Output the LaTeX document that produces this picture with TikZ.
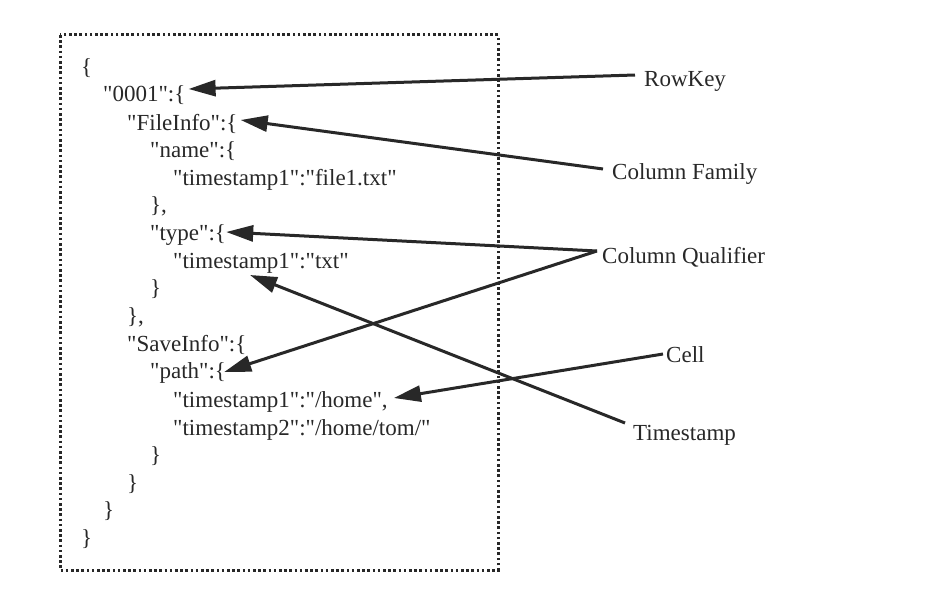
\documentclass[tikz,border=0pt]{standalone}
\usepackage{fontspec}
\setmainfont{Liberation Serif}[Ligatures=TeXOff]
\usetikzlibrary{arrows.meta}
\definecolor{ink}{RGB}{40,40,40}
\begin{document}
\begin{tikzpicture}[x=1pt,y=-1pt,
  code/.style={anchor=base west,inner sep=0pt,text=ink,font=\fontsize{23}{27}\selectfont},
  lab/.style={anchor=base west,inner sep=0pt,text=ink,font=\fontsize{23}{27}\selectfont},
  conn/.style={draw=ink,line width=3pt,-{Triangle[length=27pt,width=16pt]}},
  frame/.style={draw=ink,line width=3pt,dash pattern=on 2.6pt off 2.6pt}]
\useasboundingbox (0,0) rectangle (932,610);
\fill[white] (0,0) rectangle (932,610);
\draw[frame] (60,35) rectangle (498,570);
% code lines
\node[code] (c0)  at (81,74.5)  {\{};
\node[code] (c1)  at (103,102)  {"0001":\{};
\node[code] (c2)  at (127,130)  {"FileInfo":\{};
\node[code] (c3)  at (150,157)  {"name":\{};
\node[code] (c4)  at (173,185)  {"timestamp1":"file1.txt"};
\node[code] (c5)  at (150,212)  {\},};
\node[code] (c6)  at (150,240)  {"type":\{};
\node[code] (c7)  at (173,268)  {"timestamp1":"txt"};
\node[code] (c8)  at (150,295)  {\}};
\node[code] (c9)  at (127,323)  {\},};
\node[code] (c10) at (127,351)  {"SaveInfo":\{};
\node[code] (c11) at (150,378)  {"path":\{};
\node[code] (c12) at (173,407)  {"timestamp1":"/home",};
\node[code] (c13) at (173,435)  {"timestamp2":"/home/tom/"};
\node[code] (c14) at (150,462)  {\}};
\node[code] (c15) at (127,490)  {\}};
\node[code] (c16) at (103,517)  {\}};
\node[code] (c17) at (81,545)   {\}};
% labels
\node[lab] (rk) at (644,86)  {RowKey};
\node[lab] (cf) at (612,179) {Column Family};
\node[lab] (cq) at (602,263) {Column Qualifier};
\node[lab] (ce) at (666,362) {Cell};
\node[lab] (ts) at (633,440) {Timestamp};
% connectors
\draw[conn] ([xshift=-9pt,yshift=11pt]rk.base west) -- ([xshift=3pt,yshift=13pt]c1.base east);
\draw[conn] ([xshift=-9pt,yshift=10pt]cf.base west) -- ([xshift=3pt,yshift=10pt]c2.base east);
\draw[conn] ([xshift=-5pt,yshift=12pt]cq.base west) -- ([xshift=0pt,yshift=8pt]c6.base east);
\draw[conn] ([xshift=-5pt,yshift=12pt]cq.base west) -- ([xshift=-2pt,yshift=6pt]c11.base east);
\draw[conn] ([xshift=-3pt,yshift=8pt]ce.base west) -- ([xshift=6pt,yshift=9pt]c12.base east);
\draw[conn] ([xshift=-8pt,yshift=17pt]ts.base west) -- ([xshift=77pt,yshift=-7pt]c7.base west);
\end{tikzpicture}
\end{document}
